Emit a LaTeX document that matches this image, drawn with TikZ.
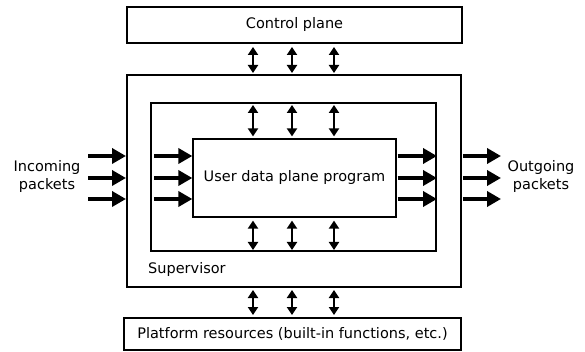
\documentclass[tikz,border=0pt]{standalone}
\usepackage{fontspec}
\setmainfont{DejaVu Sans}
\usetikzlibrary{arrows.meta,calc}
\begin{document}
\begin{tikzpicture}[x=1pt,y=-1pt,
  box/.style={draw,line width=2pt,rectangle,inner sep=0pt},
  thinbox/.style={draw,line width=1.3pt,rectangle,inner sep=0pt},
  lbl/.style={font=\fontsize{14.5}{18}\selectfont,inner sep=0pt},
  flow/.style={line width=4.6pt,-{Triangle[length=14pt,width=15pt]}},
  link/.style={line width=2.8pt,{Triangle[length=8pt,width=10pt]}-{Triangle[length=8pt,width=10pt]}}]
\useasboundingbox (0,0) rectangle (585,352);

% boxes
\node[box,minimum width=335pt,minimum height=36pt,lbl] (control) at (294.5,25) {Control plane};
\node[box,minimum width=334pt,minimum height=212pt] (supervisor) at (294,181) {};
\node[box,minimum width=285pt,minimum height=148pt] (inner) at (293.5,177) {};
\node[thinbox,minimum width=203pt,minimum height=78pt,lbl] (program) at (294.5,178) {User data plane program};
\node[box,minimum width=337pt,minimum height=32pt,lbl] (platform) at (292.5,334) {Platform resources (built-in functions, etc.)};

% labels
\node[lbl,anchor=west] (suplabel) at (148,269) {Supervisor};
\node[lbl,align=center] (inlabel) at (47,177) {Incoming\\packets};
\node[lbl,align=center] (outlabel) at (541,177) {Outgoing\\packets};

% packet flows
\foreach \dy in {-22,0,21} {
  \draw[flow] ($(supervisor.west |- program.center)+(-38,\dy)$) -- ($(supervisor.west |- program.center)+(0,\dy)$);
  \draw[flow] ($(program.west)+(-38,\dy)$) -- ($(program.west)+(0,\dy)$);
  \draw[flow] ($(program.east)+(1,\dy)$) -- ($(inner.east |- program.center)+(0,\dy)$);
  \draw[flow] ($(supervisor.east |- program.center)+(1,\dy)$) -- ($(supervisor.east |- program.center)+(39,\dy)$);
}

% control and resource links
\foreach \x in {253,292,334} {
  \draw[link] ($(control.south -| \x,0)+(0,3)$) -- ($(supervisor.north -| \x,0)+(0,-1)$);
  \draw[link] ($(inner.north -| \x,0)+(0,3)$) -- ($(program.north -| \x,0)+(0,-2)$);
  \draw[link] ($(program.south -| \x,0)+(0,3)$) -- ($(inner.south -| \x,0)+(0,-2)$);
  \draw[link] ($(supervisor.south -| \x,0)+(0,2)$) -- ($(platform.north -| \x,0)+(0,-2)$);
}
\end{tikzpicture}
\end{document}
